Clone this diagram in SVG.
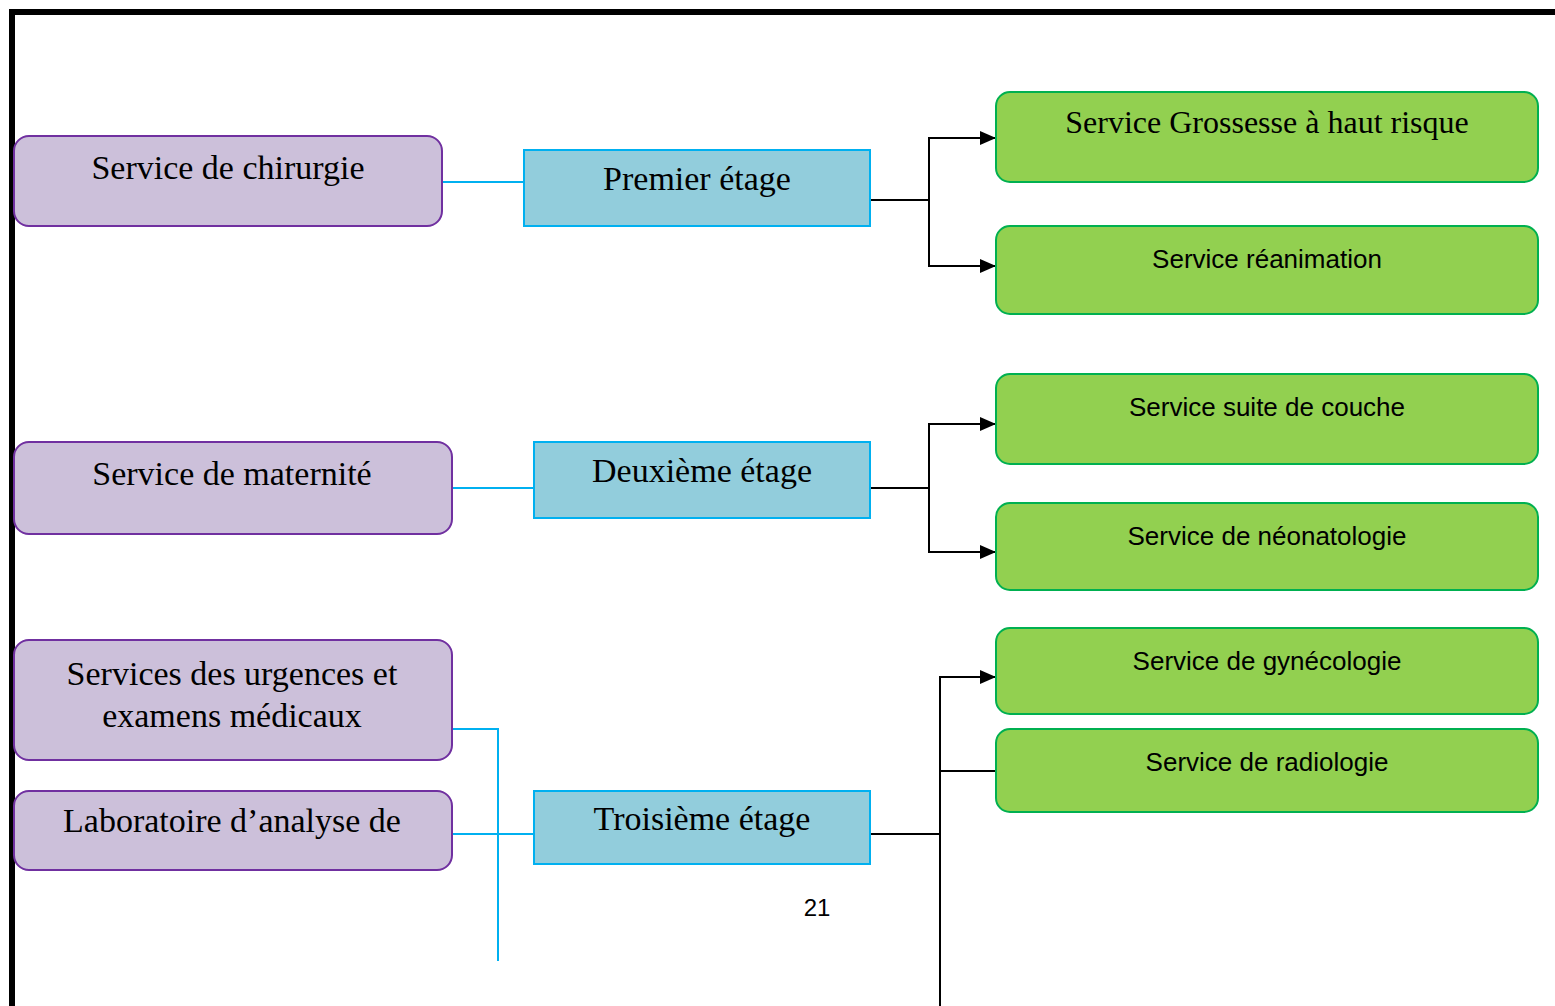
<svg xmlns="http://www.w3.org/2000/svg" width="1555" height="1006" viewBox="0 0 1555 1006">
<style>
.p{fill:#CCC0DA;stroke:#7030A0;stroke-width:2}
.b{fill:#92CDDC;stroke:#00B0F0;stroke-width:2}
.g{fill:#92D050;stroke:#00B050;stroke-width:2}
.s{font-family:"Liberation Serif","Times New Roman",serif;font-size:34px;fill:#000;text-anchor:middle}
.a{font-family:"Liberation Sans",Arial,sans-serif;font-size:26px;fill:#000;text-anchor:middle}
.c{fill:none;stroke:#00B0F0;stroke-width:2}
.k{fill:none;stroke:#000;stroke-width:2}
</style>
<defs>
<marker id="ar" markerWidth="16" markerHeight="14" refX="16" refY="7" orient="auto" markerUnits="userSpaceOnUse">
<path d="M0,0 L16,7 L0,14 Z" fill="#000"/>
</marker>
</defs>
<rect width="1555" height="1006" fill="#fff"/>
<path d="M12,1006 V12 H1555" fill="none" stroke="#000" stroke-width="6"/>
<g id="connectors">
<path class="c" d="M442,182 H524"/>
<path class="k" d="M870,200 H929"/>
<path class="k" d="M929,200 V138 H996" marker-end="url(#ar)"/>
<path class="k" d="M929,200 V266 H996" marker-end="url(#ar)"/>
<path class="c" d="M452,488 H534"/>
<path class="k" d="M870,488 H929"/>
<path class="k" d="M929,488 V424 H996" marker-end="url(#ar)"/>
<path class="k" d="M929,488 V552 H996" marker-end="url(#ar)"/>
<path class="c" d="M452,729 H498 V961"/>
<path class="c" d="M452,834 H534"/>
<path class="k" d="M870,834 H940"/>
<path class="k" d="M940,1006 V677 H996" marker-end="url(#ar)"/>
<path class="k" d="M940,771 H996"/>
</g>
<g id="chirurgie"><rect class="p" x="14" y="136" width="428" height="90" rx="15"/><text class="s" x="228" y="179">Service de chirurgie</text></g>
<g id="premier"><rect class="b" x="524" y="150" width="346" height="76"/><text class="s" x="697" y="190">Premier étage</text></g>
<g id="grossesse"><rect class="g" x="996" y="92" width="542" height="90" rx="14"/><text class="s" x="1267" y="133" style="font-size:32px">Service Grossesse à haut risque</text></g>
<g id="reanimation"><rect class="g" x="996" y="226" width="542" height="88" rx="14"/><text class="a" x="1267" y="268">Service réanimation</text></g>
<g id="suite"><rect class="g" x="996" y="374" width="542" height="90" rx="14"/><text class="a" x="1267" y="416">Service suite de couche</text></g>
<g id="neonatologie"><rect class="g" x="996" y="503" width="542" height="87" rx="14"/><text class="a" x="1267" y="545">Service de néonatologie</text></g>
<g id="gynecologie"><rect class="g" x="996" y="628" width="542" height="86" rx="14"/><text class="a" x="1267" y="670">Service de gynécologie</text></g>
<g id="radiologie"><rect class="g" x="996" y="729" width="542" height="83" rx="14"/><text class="a" x="1267" y="771">Service de radiologie</text></g>
<g id="maternite"><rect class="p" x="14" y="442" width="438" height="92" rx="15"/><text class="s" x="232" y="485">Service de maternité</text></g>
<g id="deuxieme"><rect class="b" x="534" y="442" width="336" height="76"/><text class="s" x="702" y="482">Deuxième étage</text></g>
<g id="urgences"><rect class="p" x="14" y="640" width="438" height="120" rx="15"/><text class="s" x="232" y="685">Services des urgences et</text><text class="s" x="232" y="727">examens médicaux</text></g>
<g id="laboratoire"><rect class="p" x="14" y="791" width="438" height="79" rx="15"/><text class="s" x="232" y="832">Laboratoire d’analyse de</text></g>
<g id="troisieme"><rect class="b" x="534" y="791" width="336" height="73"/><text class="s" x="702" y="830">Troisième étage</text></g>
<text class="a" x="817" y="916" style="font-size:24px">21</text>
</svg>
